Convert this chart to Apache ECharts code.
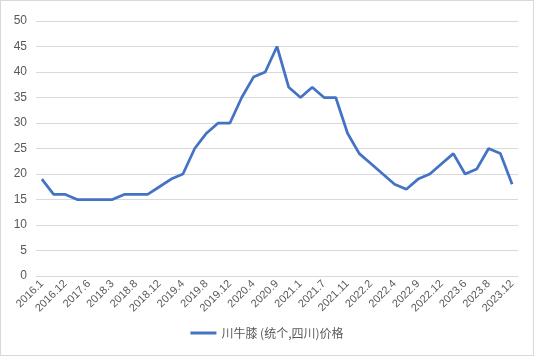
<!DOCTYPE html>
<html>
<head>
<meta charset="utf-8">
<script src="https://cdn.jsdelivr.net/npm/echarts@6/dist/echarts.min.js"></script>
<style>
html,body{margin:0;padding:0;background:#fff;}
#c{width:534px;height:356px;box-sizing:border-box;border:1px solid #d9d9d9;}
</style>
</head>
<body>
<div id="c"></div>
<script>
const categories = ["2016.1","2016.6","2016.12","2017.3","2017.6","2017.10","2018.3","2018.6","2018.8","2018.10","2018.12","2019.2","2019.4","2019.6","2019.8","2019.10","2019.12","2020.2","2020.4","2020.6","2020.9","2020.11","2021.1","2021.4","2021.7","2021.9","2021.11","2022.1","2022.2","2022.3","2022.4","2022.6","2022.9","2022.11","2022.12","2023.3","2023.6","2023.7","2023.8","2023.10","2023.12"];
const seriesName = "川牛膝 (统个,四川)价格";
const prices = [19,16,16,15,15,15,15,16,16,16,17.5,19,20,25,28,30,30,35,39,40,45,37,35,37,35,35,28,24,22,20,18,17,19,20,22,24,20,21,25,24,18];
const yTicks = {min:0,max:50,interval:5};

const chart = echarts.init(document.getElementById('c'), null, {renderer:'canvas'});
chart.setOption({
  animation:false,
  textStyle:{fontFamily:'Liberation Sans, DejaVu Sans, sans-serif'},
  grid:{left:35,right:15,top:20,bottom:79,containLabel:false},
  legend:{
    bottom:11,left:'center',
    itemWidth:26,itemHeight:3,
    icon:'rect',
    textStyle:{color:'#595959',fontSize:12,fontFamily:'Noto Sans CJK SC, sans-serif'},
    data:[seriesName]
  },
  xAxis:{
    type:'category',
    data:categories,
    boundaryGap:true,
    axisLine:{show:true,lineStyle:{color:'#d9d9d9'}},
    axisTick:{show:false},
    axisLabel:{interval:1,rotate:45,color:'#595959',fontSize:11,margin:6}
  },
  yAxis:{
    type:'value',
    min:yTicks.min,max:yTicks.max,interval:yTicks.interval,
    axisLine:{show:false},
    axisTick:{show:false},
    axisLabel:{color:'#595959',fontSize:12,margin:9},
    splitLine:{lineStyle:{color:'#d9d9d9',width:1}}
  },
  series:[{
    name:seriesName,
    type:'line',
    data:prices,
    showSymbol:false,
    symbol:'none',
    lineStyle:{color:'#4472C4',width:2.75},
    itemStyle:{color:'#4472C4'}
  }]
});
</script>
</body>
</html>
